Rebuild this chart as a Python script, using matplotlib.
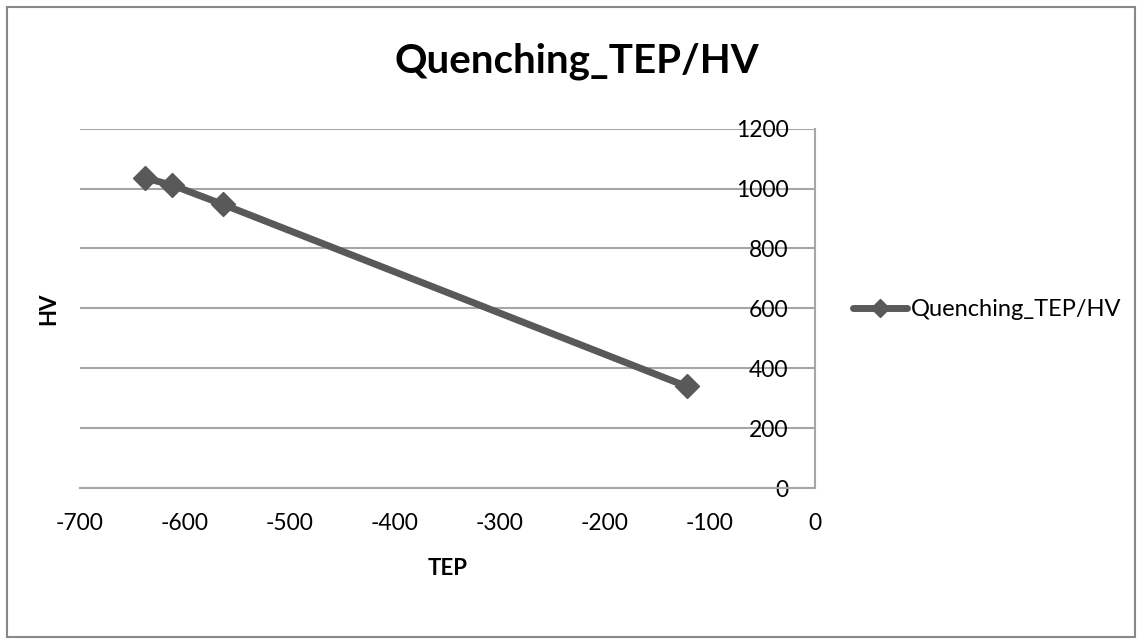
import matplotlib.pyplot as plt
from matplotlib.patches import Rectangle

# data
tep = [-638, -612, -564, -122]
hv = [1035, 1011, 947, 339]
series_name = "Quenching_TEP/HV"
x_ticks = [-700, -600, -500, -400, -300, -200, -100, 0]
y_ticks = [0, 200, 400, 600, 800, 1000, 1200]

plt.rcParams['font.family'] = ['Lato', 'DejaVu Sans']
plt.rcParams['axes.unicode_minus'] = False

fig = plt.figure(figsize=(11.43, 6.44), dpi=100)
ax = fig.add_axes([0.0700, 0.2422, 0.6430, 0.5581])

grid_col = "#a6a6a6"
line_col = "#595959"

ax.plot(tep, hv, color=line_col, lw=5, marker="D", markersize=12,
        label=series_name, solid_capstyle="round", zorder=3)

ax.set_xlim(-700, 0)
ax.set_ylim(0, 1200)
ax.set_xticks(x_ticks)
ax.set_yticks(y_ticks)
ax.yaxis.grid(True, color=grid_col, lw=1.5)
ax.set_axisbelow(True)

for s in ["top", "left"]:
    ax.spines[s].set_visible(False)
for s in ["right", "bottom"]:
    ax.spines[s].set_color(grid_col)
    ax.spines[s].set_linewidth(1.5)

ax.tick_params(axis="x", length=0, pad=18, labelsize=16.5)
ax.tick_params(axis="y", length=0, labelleft=False, labelright=True,
               pad=-19, labelsize=16.5)
plt.setp(ax.get_yticklabels(), ha="right")

ax.set_xlabel("TEP", fontsize=16, fontweight="bold")
ax.xaxis.set_label_coords(0.5, -0.196)
ax.set_ylabel("HV", fontsize=16, fontweight="bold")
ax.yaxis.set_label_coords(-0.028, 0.5)

fig.text(0.505, 0.887, "Quenching_TEP/HV", fontsize=29, fontweight="bold",
         ha="center", va="baseline")

fig.legend(loc="center left", bbox_to_anchor=(0.746, 0.519), frameon=False,
           fontsize=17, handlelength=2.3, handletextpad=0.15, borderpad=0,
           borderaxespad=0, markerscale=0.75)

# outer chart border
fig.patches.append(Rectangle((0.006, 0.011), 0.987, 0.978, transform=fig.transFigure,
                             fill=False, edgecolor="#888888", lw=1.5))

fig.savefig("out.png", dpi=100)
